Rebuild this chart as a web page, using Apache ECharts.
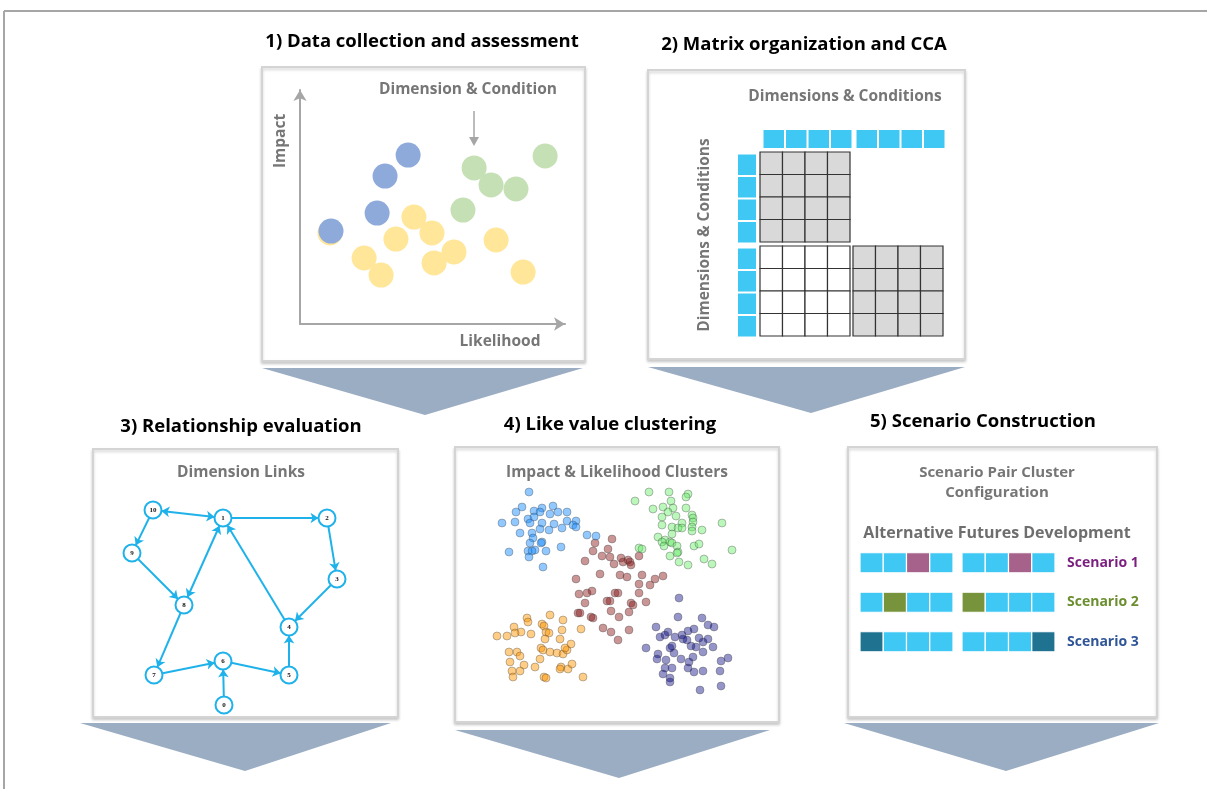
<!DOCTYPE html>
<html><head><meta charset="utf-8">
<script src="https://cdn.jsdelivr.net/npm/echarts@6/dist/echarts.min.js"></script>
<style>html,body{margin:0;padding:0;background:#fff}#c{width:1207px;height:789px}</style>
</head><body><div id="c"></div>
<script>
// ---------- Panel 1: Data collection and assessment ([likelihood, impact]) ----------
const p1Yellow = [[43,45.7],[49.8,38.9],[36.2,36.3],[24.2,28.2],[30.6,20.9],[58.1,30.8],[50.6,26.1],[74,35.9],[84.2,22.2],[11.3,38.9]];
const p1Green  = [[92.5,71.8],[65.7,66.7],[72.1,59.4],[81.5,57.7],[61.5,48.7]];
const p1Blue   = [[40.8,72.2],[32.1,63.2],[29.1,47.4],[11.7,39.7]];

// ---------- Panel 2: Matrix organization and CCA ----------
// H = header cell, G = grey (assessed) cell, W = white cell, . = empty
const ccaHeaderRow = 'HHHHHHHH';
const ccaHeaderCol = 'HHHHHHHH';
const ccaMatrix = [
  'GGGG....',
  'GGGG....',
  'GGGG....',
  'GGGG....',
  'WWWWGGGG',
  'WWWWGGGG',
  'WWWWGGGG',
  'WWWWGGGG'
];

// ---------- Panel 3: Relationship evaluation ----------
const linkNodeIds = ['10','1','2','9','3','8','4','7','6','5','0'];
const linkNodePos = [[17.2,84],[45.2,80.8],[86.8,80.8],[8.8,66.8],[90.8,56.4],[29.6,46],[71.6,37.2],[17.6,18],[45.2,23.6],[71.6,18],[45.6,6]];
// [source, target, bidirectional]
const linkEdges = [['1','10',true],['1','2',false],['2','3',false],['10','9',false],['9','8',false],['8','1',true],
                   ['3','4',false],['4','1',false],['8','7',false],['7','6',false],['6','5',false],['5','4',false],['0','6',false]];

// ---------- Panel 4: Like value clustering ([likelihood, impact]) ----------
const clusterBlue = [[19.6,104],[16.8,96.5],[14.4,94],[8.8,88.5],[14,89],[21.6,94.5],[24.8,96],[24,94],[29.2,97],[31.2,94],[34.8,94],[28,93],[19.2,90.5],[21.6,91.5],[24.8,88.5],[20,88.5],[29.6,88],[34.8,89.5],[38.4,89.5],[37.2,87.5],[38.4,86.5],[32.8,86],[27.6,85],[24,85.5],[16,83.5],[20.8,83.5],[21.2,81],[20,78.5],[24.8,79],[24.4,78.5],[32.4,76.5],[22,75],[19.2,74.5],[20.8,74.5],[26.4,74.5],[11.6,74],[19.6,71.5],[25.2,66.5],[42.8,82.5],[46.4,82]];
const clusterGreen = [[67.6,104],[75.6,104],[83.2,103],[82.4,101.5],[62,99.5],[76.4,99.5],[69.2,95.5],[73.2,96.5],[77.2,96],[82.4,96],[75.2,94],[72.8,91.5],[78.4,92],[84.8,92.5],[85.2,91],[85.2,89],[80.8,88.5],[76.8,86.5],[72.8,87.5],[79.2,86],[80.8,86],[84.8,86.5],[84.8,84.5],[88.8,85],[96.8,88.5],[76.8,83],[71.2,81.5],[74,80],[76,79],[76.8,78.5],[72.8,79],[78.8,77],[73.6,77],[85.6,77],[87.6,78],[79.2,74],[78.8,73.5],[63.6,76],[64.8,75.5],[76,72],[79.6,69],[83.2,67.5],[89.6,70.5],[92.8,68],[100.8,75]];
const clusterBrown = [[52.8,80.5],[46,78.5],[51.2,75.5],[45.2,74.5],[48.8,72],[52,71.5],[56.4,71],[42,69.5],[53.6,68],[57.2,69],[59.2,70],[60,69],[63.6,72],[60.4,67.5],[48,63],[56,62.5],[38.4,60.5],[58.8,61.5],[64.8,62.5],[70,60.5],[73.2,62],[63.6,58],[68,57.5],[39.6,53],[42.8,53.5],[44.8,54.5],[54,53.5],[55.2,53.5],[63.6,53.5],[42,48.5],[50.8,49.5],[52,49.5],[60.4,48.5],[61.2,47.5],[66.4,49],[59.6,44],[52.4,44.5],[39.2,43.5],[40,43.5],[44.4,41.5],[45.2,41],[55.6,41.5],[49.2,36],[52.4,34],[59.6,35],[55.2,30]];
const clusterOrange = [[28,42.5],[18.8,41],[19.2,39],[33.2,40],[13.6,36.5],[16.4,34],[14,33.5],[6.8,32],[10.8,32],[20.4,33],[24.8,38],[25.6,37],[26.4,34],[27.6,33.5],[26,30.5],[32.8,35],[32,30.5],[40.4,35.5],[11.6,24],[14.8,24],[16,22],[12,19],[24.4,26],[25.2,25],[28,24],[30.8,23.5],[33.2,23],[34.8,25],[36.4,28],[34,26],[24,20.5],[22,16.5],[17.6,17.5],[16,14.5],[12.8,14.5],[13.2,11.5],[32.4,16.5],[32,15.5],[35.2,15.5],[36.8,18],[25.6,11.5],[26.4,11],[41.2,11.5]];
const clusterNavy = [[79.6,51],[79.2,41.5],[88.8,41],[91.2,37.5],[93.6,36.5],[70.4,36.5],[75.2,34],[74,32.5],[72,31.5],[78,31.5],[80.8,32.5],[83.2,34.5],[85.6,35.5],[81.2,30.5],[82.8,30],[87.6,31],[89.2,29],[91.2,30.5],[76.8,27],[77.6,23.5],[76,26],[84.4,27],[86.4,26.5],[93.2,26.5],[66.4,26],[71.2,23],[70.8,20.5],[74.4,20],[80.4,20.5],[85.2,21.5],[89.2,24],[83.6,19],[96.4,19.5],[99.2,21],[74,16],[76.8,16],[83.2,16],[85.6,14],[89.2,14.5],[96,14.5],[73.2,13],[76,11],[76,9],[88,5],[96.4,7]];

// ---------- Panel 5: Scenario Construction ----------
const scenarioNames = ['Scenario 1','Scenario 2','Scenario 3'];
// B = base dimension, S = scenario-specific condition
const scenarioRows = [
  ['B','B','S','B','B','B','S','B'],
  ['B','S','B','B','S','B','B','B'],
  ['S','B','B','B','B','B','B','S']
];
const scenarioColors = ['#a6628b','#77933c','#1f7391'];
const scenarioLabelColors = ['#7a1f7f','#6b8e2f','#2f5597'];

// ---------- Texts ----------
const panelTitles = ['1) Data collection and assessment','2) Matrix organization and CCA','3) Relationship evaluation','4) Like value clustering','5) Scenario Construction'];

// ================= build =================
const FONT = '"Open Sans", Lato, sans-serif';
const GREY_TXT = '#767676';
const HBLUE = '#40c8f4';

const matrixCells = [];
for (let c = 0; c < 8; c++) if (ccaHeaderRow[c] === 'H') matrixCells.push({c: c, r: -1, k: 'H'});
for (let r = 0; r < 8; r++) if (ccaHeaderCol[r] === 'H') matrixCells.push({c: -1, r: r, k: 'H'});
ccaMatrix.forEach((row, r) => row.split('').forEach((k, c) => { if (k !== '.') matrixCells.push({c: c, r: r, k: k}); }));

const scenarioCells = [];
scenarioRows.forEach((row, r) => row.forEach((k, c) => scenarioCells.push({c: c, r: r, k: k})));

function hiddenAxis(extra) {
  return Object.assign({type: 'value', show: false, axisLine: {show: false}, axisTick: {show: false}, axisLabel: {show: false}, splitLine: {show: false}}, extra);
}

const option = {
  animation: false,
  backgroundColor: '#ffffff',
  grid: [
    {left: 300, top: 90, width: 265, height: 234},   // panel 1
    {left: 737.5, top: 129.5, width: 202.5, height: 202.5}, // panel 2
    {left: 110, top: 495, width: 250, height: 225},  // panel 3
    {left: 480, top: 480, width: 260, height: 220},  // panel 4
    {left: 860, top: 543, width: 186, height: 118.5} // panel 5
  ],
  xAxis: [
    {gridIndex: 0, type: 'value', min: 0, max: 100, z: 10, axisTick: {show: false}, axisLabel: {show: false}, splitLine: {show: false},
     axisLine: {show: true, onZero: false, symbol: ['none', 'arrow'], symbolSize: [10, 11], lineStyle: {color: '#a6a6a6', width: 2}}},
    hiddenAxis({gridIndex: 1, min: -1, max: 8}),
    hiddenAxis({gridIndex: 2, min: 0, max: 100}),
    hiddenAxis({gridIndex: 3, min: 0, max: 104}),
    hiddenAxis({gridIndex: 4, min: 0, max: 8})
  ],
  yAxis: [
    {gridIndex: 0, type: 'value', min: 0, max: 100, z: 10, axisTick: {show: false}, axisLabel: {show: false}, splitLine: {show: false},
     axisLine: {show: true, onZero: false, symbol: ['none', 'arrow'], symbolSize: [10, 11], lineStyle: {color: '#a6a6a6', width: 2}}},
    hiddenAxis({gridIndex: 1, min: -1, max: 8, inverse: true}),
    hiddenAxis({gridIndex: 2, min: 0, max: 90}),
    hiddenAxis({gridIndex: 3, min: 0, max: 110}),
    {gridIndex: 4, type: 'category', data: scenarioNames, inverse: true, position: 'right', z: 10,
     axisLine: {show: false}, axisTick: {show: false}, splitLine: {show: false},
     axisLabel: {show: true, margin: 21, fontFamily: FONT, fontWeight: 'bold', fontSize: 14, padding: [5, 0, 0, 0],
       color: function (v) { return scenarioLabelColors[scenarioNames.indexOf(v)]; }}}
  ],
  graphic: buildGraphics(),
  series: [
    // Panel 1
    {type: 'scatter', xAxisIndex: 0, yAxisIndex: 0, symbolSize: 25, data: p1Yellow, itemStyle: {color: '#ffe699', opacity: 1}, silent: true, z: 3},
    {type: 'scatter', xAxisIndex: 0, yAxisIndex: 0, symbolSize: 25, data: p1Green, itemStyle: {color: '#c5e0b4', opacity: 1}, silent: true, z: 3},
    {type: 'scatter', xAxisIndex: 0, yAxisIndex: 0, symbolSize: 25, data: p1Blue, itemStyle: {color: '#8eaadb', opacity: 1}, silent: true, z: 3},
    // Panel 2
    {type: 'custom', xAxisIndex: 1, yAxisIndex: 1, silent: true, z: 3,
     data: matrixCells.map(d => [d.c, d.r]),
     renderItem: function (params, api) {
       const cell = matrixCells[params.dataIndex];
       const c = api.value(0), r = api.value(1);
       const p0 = api.coord([c, r]), p1 = api.coord([c + 1, r + 1]);
       const gx = c >= 4 ? 3 : 0, gy = r >= 4 ? 4 : 0;
       let x = p0[0] + gx, y = p0[1] + gy, w = p1[0] - p0[0], h = p1[1] - p0[1];
       if (cell.k === 'H') {
         if (r === -1) { h = 19; x += 3; w -= 1; }
         if (c === -1) { w = 19; y += 2; h -= 1; }
         return {type: 'rect', shape: {x: x, y: y, width: w, height: h}, style: {fill: HBLUE, stroke: '#ffffff', lineWidth: 1}};
       }
       return {type: 'rect', shape: {x: x, y: y, width: w, height: h},
               style: {fill: cell.k === 'G' ? '#d9d9d9' : '#ffffff', stroke: '#333333', lineWidth: 1.2}};
     }},
    // Panel 3
    {type: 'graph', coordinateSystem: 'cartesian2d', xAxisIndex: 2, yAxisIndex: 2, silent: true, z: 3,
     symbol: 'circle', symbolSize: 17,
     itemStyle: {color: '#ffffff', borderColor: '#1fb2ea', borderWidth: 2},
     label: {show: true, position: 'inside', formatter: '{b}', fontSize: 7, fontWeight: 'bold', fontFamily: '"Liberation Serif", serif', color: '#111'},
     edgeSymbol: ['none', 'arrow'], edgeSymbolSize: 8,
     lineStyle: {color: '#1fb2ea', width: 2, opacity: 1, curveness: 0},
     data: linkNodeIds.map((id, i) => ({name: id, value: linkNodePos[i]})),
     links: linkEdges.map(e => ({source: e[0], target: e[1], symbol: e[2] ? ['arrow', 'arrow'] : ['none', 'arrow']}))},
    // Panel 4
    clusterSeries(clusterBrown, 'rgba(139,26,26,0.58)'),
    clusterSeries(clusterBlue, 'rgba(30,144,255,0.62)'),
    clusterSeries(clusterGreen, 'rgba(100,235,100,0.55)'),
    clusterSeries(clusterOrange, 'rgba(255,150,0,0.6)'),
    clusterSeries(clusterNavy, 'rgba(0,0,128,0.52)'),
    // Panel 5
    {type: 'custom', xAxisIndex: 4, yAxisIndex: 4, silent: true, z: 3,
     data: scenarioCells.map(d => [d.c, d.r]),
     renderItem: function (params, api) {
       const cell = scenarioCells[params.dataIndex];
       const c = api.value(0), r = api.value(1);
       const p = api.coord([c, r]);
       const w = api.size([1, 0])[0];
       const gx = c >= 4 ? 9 : 0;
       return {type: 'rect', shape: {x: p[0] + gx, y: p[1] - 10, width: w, height: 20},
               style: {fill: cell.k === 'S' ? scenarioColors[r] : HBLUE, stroke: '#ffffff', lineWidth: 1.2}};
     }}
  ]
};

function clusterSeries(data, color) {
  return {type: 'scatter', xAxisIndex: 3, yAxisIndex: 3, symbolSize: 8, data: data, silent: true, z: 3,
          itemStyle: {color: color, borderColor: 'rgba(70,70,70,0.55)', borderWidth: 0.8}};
}

function buildGraphics() {
  const g = [];
  // outer frame lines
  g.push({type: 'line', shape: {x1: 4, y1: 11, x2: 1207, y2: 11}, style: {stroke: '#a6a6a6', lineWidth: 2}});
  g.push({type: 'line', shape: {x1: 4, y1: 11, x2: 4, y2: 789}, style: {stroke: '#a6a6a6', lineWidth: 2}});
  // chevrons
  const chevrons = [
    [[262, 368], [583, 368], [425, 415]],
    [[648, 367], [965, 367], [811, 413]],
    [[80, 723], [391, 723], [245, 771]],
    [[455, 730], [770, 730], [619, 778]],
    [[844, 723], [1159, 723], [1006, 771]]
  ];
  chevrons.forEach(p => g.push({type: 'polygon', shape: {points: p}, style: {fill: '#9badc3'}}));
  // boxes
  const boxes = [[262, 67, 323, 294], [648, 70, 317, 289], [93, 449, 305, 268], [455, 447, 324, 275], [848, 447, 309, 270]];
  boxes.forEach(b => g.push({type: 'rect', shape: {x: b[0], y: b[1], width: b[2], height: b[3]},
    style: {fill: '#ffffff', stroke: '#d4d4d4', lineWidth: 2, shadowBlur: 3, shadowColor: 'rgba(0,0,0,0.18)', shadowOffsetY: 2}}));
  // titles
  const titlePos = [[422, 42], [804, 45], [241, 427], [610, 425], [983, 422]];
  panelTitles.forEach((t, i) => g.push(txt(t, titlePos[i][0], titlePos[i][1], 18.5, '#000000')));
  // sub labels
  g.push(txt('Dimension & Condition', 468, 90, 15.5, GREY_TXT));
  g.push(txt('Impact', 281, 141, 15.5, GREY_TXT, Math.PI / 2));
  g.push(txt('Likelihood', 500, 342, 15.5, GREY_TXT));
  g.push(txt('Dimensions & Conditions', 845, 97, 15.5, GREY_TXT));
  g.push(txt('Dimensions & Conditions', 705, 235, 15.5, GREY_TXT, Math.PI / 2));
  g.push(txt('Dimension Links', 241, 473, 15.5, GREY_TXT));
  g.push(txt('Impact & Likelihood Clusters', 617, 473, 15.5, GREY_TXT));
  g.push(txt('Scenario Pair Cluster', 997, 473, 15, GREY_TXT));
  g.push(txt('Configuration', 997, 493, 15, GREY_TXT));
  g.push(txt('Alternative Futures Development', 997, 533, 16, '#6e6e6e'));
  // pointer arrow in panel 1
  g.push({type: 'line', shape: {x1: 474, y1: 111, x2: 474, y2: 138}, style: {stroke: '#a6a6a6', lineWidth: 1.5}});
  g.push({type: 'polygon', shape: {points: [[469, 137], [479, 137], [474, 146]]}, style: {fill: '#a6a6a6'}});
  return g;
}

function txt(t, x, y, size, color, rot) {
  return {type: 'text', x: x, y: y, rotation: rot || 0,
          style: {text: t, fill: color, font: 'bold ' + size + 'px ' + FONT, align: 'center', verticalAlign: 'middle'}};
}

const chart = echarts.init(document.getElementById('c'), null, {renderer: 'canvas'});
chart.setOption(option);
</script>
</body></html>
